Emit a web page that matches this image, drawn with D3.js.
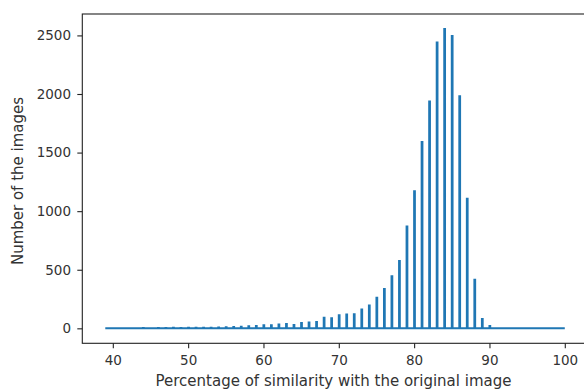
<!DOCTYPE html>
<html>
<head>
<meta charset="utf-8">
<script src="https://cdn.jsdelivr.net/npm/d3@7"></script>
<style>
  html, body { margin: 0; padding: 0; background: #fff; }
  svg { display: block; }
  text { font-family: "DejaVu Sans", sans-serif; }
</style>
</head>
<body>
<script>
// ---- data ----
const similarity = [39,40,41,42,43,44,45,46,47,48,49,50,51,52,53,54,55,56,57,58,59,60,
  61,62,63,64,65,66,67,68,69,70,71,72,73,74,75,76,77,78,79,80,81,82,83,84,85,86,87,88,89,90,
  91,92,93,94,95,96,97,98,99,100];
const counts = [0,0,0,0,0,2,1,3,2,4,3,5,4,6,6,8,9,12,14,18,20,26,
  27,32,36,28,45,50,55,90,85,112,118,120,160,195,260,335,445,575,870,1170,1590,1935,2440,2555,2495,1980,1105,415,80,20,
  0,0,0,0,0,0,0,0,0,0];
const xTicks = [40,50,60,70,80,90,100];
const yTicks = [0,500,1000,1500,2000,2500];
const xLabel = "Percentage of similarity with the original image";
const yLabel = "Number of the images";
const binWidth = 0.1;

// ---- layout ----
const W = 584, H = 392;
const mLeft = 82.3, mTop = 14, mBottom = 343.3;
const xMin = d3.min(similarity), xMax = d3.max(similarity);
const xPad = (xMax - xMin) * 0.05;
const yMax = d3.max(counts);
const x = d3.scaleLinear().domain([xMin - xPad, xMax + xPad])
  .range([mLeft, mLeft + 7.533 * (xMax - xMin + 2 * xPad)]);
const y = d3.scaleLinear().domain([-0.05 * yMax, 1.05 * yMax]).range([mBottom, mTop]);

const svg = d3.select("body").append("svg").attr("width", W).attr("height", H);

// step outline (histtype step)
const pts = [[xMin, 0]];
similarity.forEach((s, i) => {
  const c = counts[i];
  if (c > 0) {
    pts.push([s, 0], [s, c], [s + binWidth, c], [s + binWidth, 0]);
  }
});
pts.push([xMax, 0]);

svg.append("path")
  .attr("d", d3.line().x(d => x(d[0])).y(d => y(d[1]))(pts))
  .attr("fill", "none")
  .attr("stroke", "#1f77b4")
  .attr("stroke-width", 2)
  .attr("stroke-linejoin", "miter");

// axes
const fmt = d3.format("d");
const xAxis = d3.axisBottom(x).tickValues(xTicks).tickFormat(fmt).tickSize(5).tickPadding(7.5).tickSizeOuter(0);
const yAxis = d3.axisLeft(y).tickValues(yTicks).tickFormat(fmt).tickSize(5).tickPadding(6.3).tickSizeOuter(0);

const gx = svg.append("g").attr("transform", `translate(0,${mBottom})`).call(xAxis);
const gy = svg.append("g").attr("transform", `translate(${mLeft},0)`).call(yAxis);
[gx, gy].forEach(g => {
  g.select(".domain").remove();
  g.selectAll(".tick line").attr("stroke", "#222").attr("stroke-width", 1.1);
  g.selectAll(".tick text").attr("font-size", 13.5).attr("fill", "#333")
    .attr("font-family", "DejaVu Sans, sans-serif");
});

// spines
const rightX = x.range()[1];
svg.append("rect")
  .attr("x", mLeft).attr("y", mTop)
  .attr("width", rightX - mLeft).attr("height", mBottom - mTop)
  .attr("fill", "none").attr("stroke", "#222").attr("stroke-width", 1.1);

// labels
svg.append("text")
  .attr("x", 333.5).attr("y", 386)
  .attr("text-anchor", "middle").attr("font-size", 15).attr("fill", "#333")
  .text(xLabel);
svg.append("text")
  .attr("transform", `translate(23,181) rotate(-90)`)
  .attr("text-anchor", "middle").attr("font-size", 15).attr("fill", "#333")
  .text(yLabel);
</script>
</body>
</html>
